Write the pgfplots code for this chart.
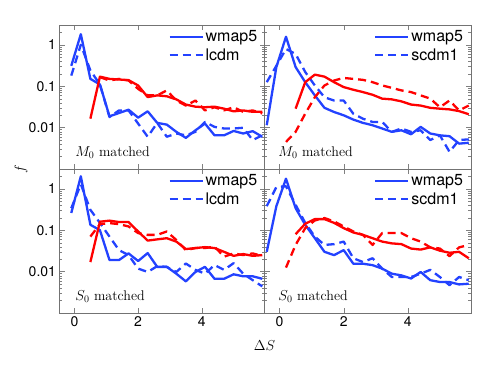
\documentclass[border=0pt]{standalone}
\usepackage{fontspec}
\usepackage{pgfplots}
\pgfplotsset{compat=1.18}
\newfontfamily\hv{TeX Gyre Heros}
\definecolor{cblue}{RGB}{35,66,255}
\definecolor{cred}{RGB}{255,0,0}
\definecolor{axgray}{RGB}{115,115,115}

\tikzset{
  bs/.style={draw=cblue, line width=2.3pt, line join=round},
  bd/.style={draw=cblue, line width=2.3pt, line join=round, dash pattern=on 8pt off 5pt},
  rs/.style={draw=cred, line width=2.3pt, line join=round},
  rd/.style={draw=cred, line width=2.3pt, line join=round, dash pattern=on 8pt off 5pt},
}

\begin{document}
\begin{tikzpicture}
\useasboundingbox (0pt,0pt) rectangle (491pt,-369pt);

% top left: M0 matched, lcdm
\begin{axis}[width=205pt, at={(59.5pt,-25pt)}, anchor=north west,
  scale only axis, height=144pt,
  ymode=log, ymin=0.001, ymax=3, xmin=-0.47, xmax=5.97,
  xtick={0,2,4}, ytick={0.01,0.1,1},
  minor ytick={0.002,0.003,0.004,0.005,0.006,0.007,0.008,0.009,0.02,0.03,0.04,0.05,0.06,0.07,0.08,0.09,0.2,0.3,0.4,0.5,0.6,0.7,0.8,0.9,2,3},
  tick align=inside, major tick length=5pt, minor tick length=2.5pt,
  axis line style={draw=axgray, line width=0.9pt},
  tick label style={font=\hv\fontsize{14}{16}\selectfont},
  legend style={draw=none, fill=none, at={(0.53,0.975)}, anchor=north west,
    font=\hv\fontsize{16}{18}\selectfont, row sep=1pt, inner sep=0pt},
  legend cell align=left,
  legend image code/.code={\draw[#1] (0pt,0pt) -- (33pt,0pt);},
  xticklabels={}, yticklabels={0.01,0.1,1}]
\addplot[bs] coordinates {(-0.1,0.31) (0.2,1.8) (0.5,0.15) (0.8,0.11) (1.1,0.0187) (1.4,0.0225) (1.7,0.027) (2.0,0.0174) (2.3,0.0247) (2.6,0.013) (2.9,0.0118) (3.2,0.0079) (3.5,0.00565) (3.8,0.0086) (4.1,0.0125) (4.4,0.0065) (4.7,0.0065) (5.0,0.0083) (5.3,0.0072) (5.6,0.0082) (5.9,0.006)};
\addlegendentry{wmap5}
\addplot[bd] coordinates {(-0.1,0.18) (0.2,1.0) (0.5,0.24) (0.8,0.11) (1.1,0.018) (1.4,0.026) (1.7,0.026) (2.0,0.0125) (2.3,0.006) (2.6,0.013) (2.9,0.006) (3.2,0.0072) (3.5,0.0065) (3.8,0.0079) (4.1,0.0137) (4.4,0.0104) (4.7,0.0095) (5.0,0.0095) (5.3,0.0099) (5.6,0.005) (5.9,0.0065)};
\addlegendentry{lcdm}
\addplot[rs, forget plot] coordinates {(0.5,0.0164) (0.8,0.17) (1.1,0.15) (1.4,0.145) (1.7,0.14) (2.0,0.104) (2.3,0.0545) (2.6,0.06) (2.9,0.057) (3.2,0.048) (3.5,0.036) (3.8,0.032) (4.1,0.031) (4.4,0.032) (4.7,0.0286) (5.0,0.0247) (5.3,0.026) (5.6,0.024) (5.9,0.024)};
\addplot[rd, forget plot] coordinates {(0.8,0.165) (1.1,0.137) (1.4,0.15) (1.7,0.137) (2.0,0.086) (2.3,0.06) (2.6,0.06) (2.9,0.079) (3.2,0.045) (3.5,0.034) (3.8,0.045) (4.1,0.026) (4.4,0.031) (4.7,0.026) (5.0,0.031) (5.3,0.024) (5.6,0.026) (5.9,0.022)};
\node[font=\fontsize{14}{16}\selectfont, anchor=base west] at (rel axis cs:0.06,0.085) {$M_0$ matched};
\end{axis}

% top right: M0 matched, scdm1
\begin{axis}[width=206.5pt, at={(264.5pt,-25pt)}, anchor=north west,
  scale only axis, height=144pt,
  ymode=log, ymin=0.001, ymax=3, xmin=-0.47, xmax=5.97,
  xtick={0,2,4}, ytick={0.01,0.1,1},
  minor ytick={0.002,0.003,0.004,0.005,0.006,0.007,0.008,0.009,0.02,0.03,0.04,0.05,0.06,0.07,0.08,0.09,0.2,0.3,0.4,0.5,0.6,0.7,0.8,0.9,2,3},
  tick align=inside, major tick length=5pt, minor tick length=2.5pt,
  axis line style={draw=axgray, line width=0.9pt},
  tick label style={font=\hv\fontsize{14}{16}\selectfont},
  legend style={draw=none, fill=none, at={(0.53,0.975)}, anchor=north west,
    font=\hv\fontsize{16}{18}\selectfont, row sep=1pt, inner sep=0pt},
  legend cell align=left,
  legend image code/.code={\draw[#1] (0pt,0pt) -- (33pt,0pt);},
  xticklabels={}, yticklabels={}]
\addplot[bs] coordinates {(-0.4,0.0114) (-0.1,0.29) (0.2,1.56) (0.5,0.29) (0.8,0.125) (1.1,0.06) (1.4,0.030) (1.7,0.0238) (2.0,0.0198) (2.3,0.0156) (2.6,0.013) (2.9,0.0114) (3.2,0.0095) (3.5,0.0079) (3.8,0.0086) (4.1,0.0069) (4.4,0.0104) (4.7,0.0072) (5.0,0.0065) (5.3,0.0062) (5.6,0.0041) (5.9,0.0043)};
\addlegendentry{wmap5}
\addplot[bd] coordinates {(-0.4,0.125) (-0.1,0.31) (0.2,0.79) (0.5,0.6) (0.8,0.22) (1.1,0.104) (1.4,0.054) (1.7,0.045) (2.0,0.045) (2.3,0.0216) (2.6,0.0164) (2.9,0.0137) (3.2,0.0137) (3.5,0.0079) (3.8,0.0095) (4.1,0.0079) (4.4,0.0086) (4.7,0.005) (5.0,0.0065) (5.3,0.0026) (5.6,0.005) (5.9,0.0052)};
\addlegendentry{scdm1}
\addplot[rs, forget plot] coordinates {(0.5,0.0286) (0.8,0.125) (1.1,0.19) (1.4,0.17) (1.7,0.125) (2.0,0.095) (2.3,0.082) (2.6,0.072) (2.9,0.062) (3.2,0.05) (3.5,0.048) (3.8,0.043) (4.1,0.036) (4.4,0.034) (4.7,0.03) (5.0,0.0286) (5.3,0.0275) (5.6,0.025) (5.9,0.021)};
\addplot[rd, forget plot] coordinates {(0.2,0.0045) (0.5,0.0079) (0.8,0.0217) (1.1,0.054) (1.4,0.104) (1.7,0.137) (2.0,0.158) (2.3,0.15) (2.6,0.142) (2.9,0.125) (3.2,0.104) (3.5,0.091) (3.8,0.079) (4.1,0.072) (4.4,0.06) (4.7,0.05) (5.0,0.031) (5.3,0.045) (5.6,0.026) (5.9,0.034)};
\node[font=\fontsize{14}{16}\selectfont, anchor=base west] at (rel axis cs:0.05,0.085) {$M_0$ matched};
\end{axis}

% bottom left: S0 matched, lcdm
\begin{axis}[width=205pt, at={(59.5pt,-169pt)}, anchor=north west,
  scale only axis, height=144pt,
  ymode=log, ymin=0.001, ymax=3, xmin=-0.47, xmax=5.97,
  xtick={0,2,4}, ytick={0.01,0.1,1},
  minor ytick={0.002,0.003,0.004,0.005,0.006,0.007,0.008,0.009,0.02,0.03,0.04,0.05,0.06,0.07,0.08,0.09,0.2,0.3,0.4,0.5,0.6,0.7,0.8,0.9,2,3},
  tick align=inside, major tick length=5pt, minor tick length=2.5pt,
  axis line style={draw=axgray, line width=0.9pt},
  tick label style={font=\hv\fontsize{14}{16}\selectfont},
  legend style={draw=none, fill=none, at={(0.53,0.975)}, anchor=north west,
    font=\hv\fontsize{16}{18}\selectfont, row sep=1pt, inner sep=0pt},
  legend cell align=left,
  legend image code/.code={\draw[#1] (0pt,0pt) -- (33pt,0pt);},
  xticklabels={0,2,4}, yticklabels={0.01,0.1,1}]
\addplot[bs] coordinates {(-0.1,0.26) (0.2,2.0) (0.5,0.135) (0.8,0.10) (1.1,0.019) (1.4,0.019) (1.7,0.0275) (2.0,0.018) (2.3,0.028) (2.6,0.013) (2.9,0.013) (3.2,0.0089) (3.5,0.0058) (3.8,0.0098) (4.1,0.013) (4.4,0.0067) (4.7,0.0067) (5.0,0.0086) (5.3,0.0077) (5.6,0.0077) (5.9,0.0067)};
\addlegendentry{wmap5}
\addplot[bd] coordinates {(-0.1,0.34) (0.2,1.28) (0.5,0.31) (0.8,0.15) (1.1,0.07) (1.4,0.033) (1.7,0.025) (2.0,0.0118) (2.3,0.0098) (2.6,0.0135) (2.9,0.013) (3.2,0.0098) (3.5,0.0157) (3.8,0.011) (4.1,0.0089) (4.4,0.0144) (4.7,0.011) (5.0,0.016) (5.3,0.0089) (5.6,0.0062) (5.9,0.0044)};
\addlegendentry{lcdm}
\addplot[rs, forget plot] coordinates {(0.5,0.017) (0.8,0.16) (1.1,0.17) (1.4,0.157) (1.7,0.157) (2.0,0.093) (2.3,0.056) (2.6,0.06) (2.9,0.064) (3.2,0.053) (3.5,0.035) (3.8,0.037) (4.1,0.039) (4.4,0.037) (4.7,0.030) (5.0,0.024) (5.3,0.0265) (5.6,0.024) (5.9,0.025)};
\addplot[rd, forget plot] coordinates {(0.5,0.07) (0.8,0.14) (1.1,0.148) (1.4,0.14) (1.7,0.123) (2.0,0.085) (2.3,0.077) (2.6,0.077) (2.9,0.093) (3.2,0.058) (3.5,0.033) (3.8,0.037) (4.1,0.037) (4.4,0.04) (4.7,0.0229) (5.0,0.0275) (5.3,0.025) (5.6,0.0275) (5.9,0.0238)};
\node[font=\fontsize{14}{16}\selectfont, anchor=base west] at (rel axis cs:0.06,0.085) {$S_0$ matched};
\end{axis}

% bottom right: S0 matched, scdm1
\begin{axis}[width=206.5pt, at={(264.5pt,-169pt)}, anchor=north west,
  scale only axis, height=144pt,
  ymode=log, ymin=0.001, ymax=3, xmin=-0.47, xmax=5.97,
  xtick={0,2,4}, ytick={0.01,0.1,1},
  minor ytick={0.002,0.003,0.004,0.005,0.006,0.007,0.008,0.009,0.02,0.03,0.04,0.05,0.06,0.07,0.08,0.09,0.2,0.3,0.4,0.5,0.6,0.7,0.8,0.9,2,3},
  tick align=inside, major tick length=5pt, minor tick length=2.5pt,
  axis line style={draw=axgray, line width=0.9pt},
  tick label style={font=\hv\fontsize{14}{16}\selectfont},
  legend style={draw=none, fill=none, at={(0.53,0.975)}, anchor=north west,
    font=\hv\fontsize{16}{18}\selectfont, row sep=1pt, inner sep=0pt},
  legend cell align=left,
  legend image code/.code={\draw[#1] (0pt,0pt) -- (33pt,0pt);},
  xticklabels={0,2,4}, yticklabels={}]
\addplot[bs] coordinates {(-0.4,0.03) (-0.1,0.38) (0.2,1.75) (0.5,0.34) (0.8,0.135) (1.1,0.064) (1.4,0.03) (1.7,0.025) (2.0,0.033) (2.3,0.0155) (2.6,0.0155) (2.9,0.0143) (3.2,0.0118) (3.5,0.0089) (3.8,0.0081) (4.1,0.0068) (4.4,0.0098) (4.7,0.0062) (5.0,0.0056) (5.3,0.0056) (5.6,0.0049) (5.9,0.0051)};
\addlegendentry{wmap5}
\addplot[bd] coordinates {(-0.4,0.38) (-0.1,1.1) (0.2,1.15) (0.5,0.41) (0.8,0.15) (1.1,0.07) (1.4,0.044) (1.7,0.046) (2.0,0.053) (2.3,0.021) (2.6,0.017) (2.9,0.021) (3.2,0.0118) (3.5,0.0074) (3.8,0.0074) (4.1,0.0074) (4.4,0.0089) (4.7,0.011) (5.0,0.0074) (5.3,0.0047) (5.6,0.0074) (5.9,0.0062)};
\addlegendentry{scdm1}
\addplot[rs, forget plot] coordinates {(0.5,0.08) (0.8,0.143) (1.1,0.185) (1.4,0.185) (1.7,0.15) (2.0,0.112) (2.3,0.088) (2.6,0.077) (2.9,0.064) (3.2,0.053) (3.5,0.048) (3.8,0.046) (4.1,0.036) (4.4,0.034) (4.7,0.0385) (5.0,0.032) (5.3,0.0285) (5.6,0.03) (5.9,0.021)};
\addplot[rd, forget plot] coordinates {(0.2,0.0125) (0.5,0.044) (0.8,0.112) (1.1,0.172) (1.4,0.196) (1.7,0.163) (2.0,0.123) (2.3,0.093) (2.6,0.077) (2.9,0.044) (3.2,0.085) (3.5,0.085) (3.8,0.085) (4.1,0.064) (4.4,0.053) (4.7,0.0385) (5.0,0.036) (5.3,0.0236) (5.6,0.0385) (5.9,0.044)};
\node[font=\fontsize{14}{16}\selectfont, anchor=base west] at (rel axis cs:0.05,0.085) {$S_0$ matched};
\end{axis}

\node[font=\fontsize{15}{17}\selectfont] at (264.5pt,-346pt) {$\Delta S$};
\node[font=\fontsize{15}{17}\selectfont, rotate=90] at (21pt,-169pt) {$f$};
\end{tikzpicture}
\end{document}
